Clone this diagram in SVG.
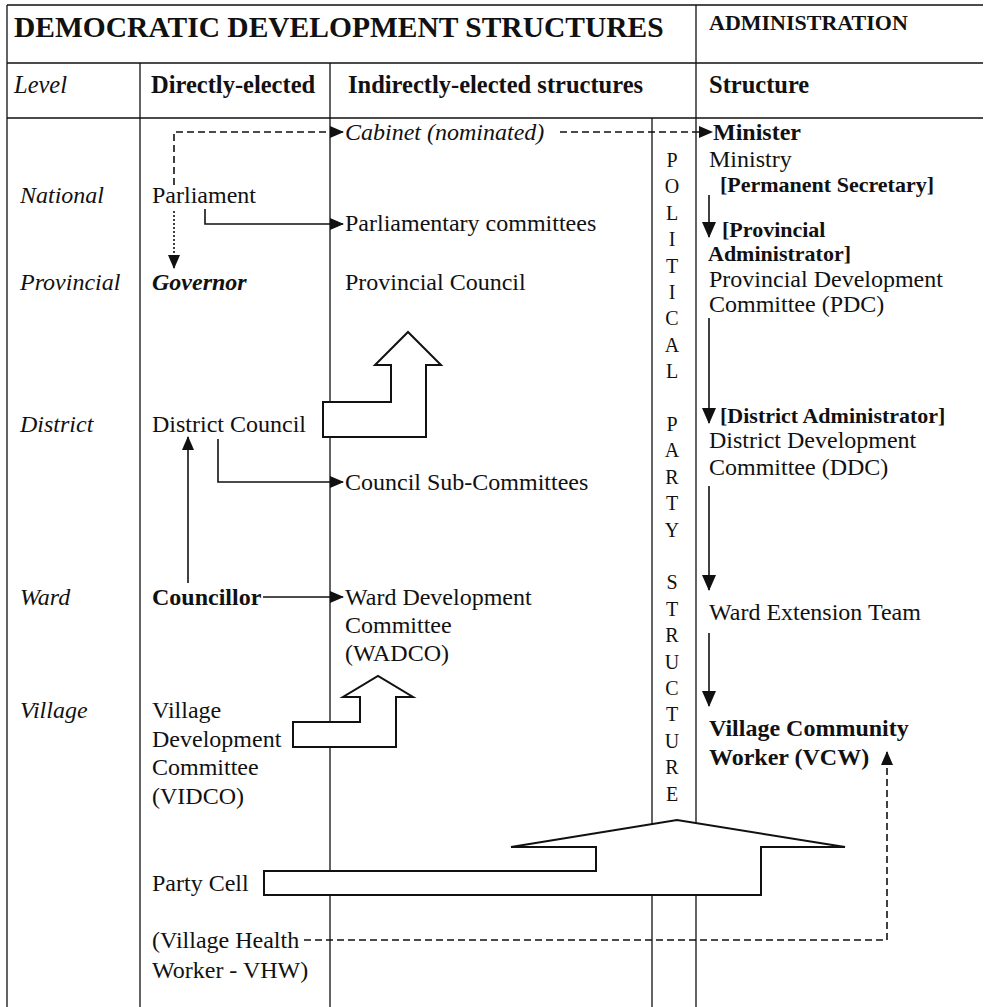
<svg xmlns="http://www.w3.org/2000/svg" width="985" height="1007" viewBox="0 0 985 1007">
<style>
text{font-family:"Liberation Serif","Times New Roman",serif;font-size:24px;fill:#111}
.b{font-weight:bold}
.i{font-style:italic}
.h{font-size:24.5px}
.sm{font-size:22px}
.pl{font-size:20px;text-anchor:middle}
.grid{stroke:#111;stroke-width:1.3;fill:none}
.ln{stroke:#111;stroke-width:1.6;fill:none}
.dash{stroke:#111;stroke-width:1.6;fill:none;stroke-dasharray:7,4}
.dot{stroke:#111;stroke-width:1.6;fill:none;stroke-dasharray:2,2}
.blk{stroke:#111;stroke-width:2;fill:#fff}
</style>
<defs>
<marker id="ah" markerWidth="14" markerHeight="12" refX="13" refY="6" orient="auto" markerUnits="userSpaceOnUse"><path d="M0,0 L14,6 L0,12 z" fill="#111"/></marker>
<marker id="ahb" markerWidth="16" markerHeight="14" refX="15" refY="7" orient="auto" markerUnits="userSpaceOnUse"><path d="M0,0 L16,7 L0,14 z" fill="#111"/></marker>
</defs>
<rect width="985" height="1007" fill="#fff"/>
<g id="table">
<path class="grid" d="M7,5 H983 M7,63 H983 M7,118 H983 M7,5 V1007 M140,63 V1007 M330,63 V1007 M696,5 V1007 M652,118 V1007"/>
</g>
<g id="headers">
<text class="b" x="14" y="37" style="font-size:29.5px">DEMOCRATIC DEVELOPMENT STRUCTURES</text>
<text class="b sm" x="709" y="30">ADMINISTRATION</text>
<text class="i h" x="14" y="93">Level</text>
<text class="b h" x="151" y="93">Directly-elected</text>
<text class="b h" x="348" y="93">Indirectly-elected structures</text>
<text class="b h" x="709" y="93">Structure</text>
</g>
<g id="levels">
<text class="i" x="20" y="203">National</text>
<text class="i" x="20" y="290">Provincial</text>
<text class="i" x="20" y="432">District</text>
<text class="i" x="20" y="605">Ward</text>
<text class="i" x="20" y="718">Village</text>
</g>
<g id="blocks">
<polygon class="blk" points="323,402 391,402 391,365 375,365 408,332 441,365 426,365 426,437 323,437"/>
<polygon class="blk" points="293,722 360,722 360,697 343,697 378,676 413,697 396,697 396,747 293,747"/>
<polygon class="blk" points="264,871 596,871 596,847 511,847 677,820 845,847 761,847 761,895 264,895"/>
</g>
<g id="connectors">
<path class="dash" d="M174,185 V132 H343" marker-end="url(#ah)"/>
<path class="dash" d="M560,132 H712" marker-end="url(#ah)"/>
<path class="dot" d="M174,211 V268" marker-end="url(#ah)"/>
<path class="ln" d="M205,209 V224 H343" marker-end="url(#ah)"/>
<path class="ln" d="M218,439 V482 H343" marker-end="url(#ah)"/>
<path class="ln" d="M188,583 V437" marker-end="url(#ah)"/>
<path class="ln" d="M263,597 H343" marker-end="url(#ah)"/>
<path class="ln" d="M709,195 V237" marker-end="url(#ahb)"/>
<path class="ln" d="M709,318 V423" marker-end="url(#ahb)"/>
<path class="ln" d="M709,486 V590" marker-end="url(#ahb)"/>
<path class="ln" d="M709,633 V706" marker-end="url(#ahb)"/>
<path class="dash" d="M304,940 H887 V752" marker-end="url(#ah)"/>
</g>
<g id="n-cabinet"><text class="i" x="345" y="140">Cabinet (nominated)</text></g>
<g id="n-parliament"><text x="152" y="203">Parliament</text></g>
<g id="n-parlcomm"><text x="345" y="231">Parliamentary committees</text></g>
<g id="n-governor"><text class="b i" x="152" y="290">Governor</text></g>
<g id="n-provcouncil"><text x="345" y="290">Provincial Council</text></g>
<g id="n-distcouncil"><text x="152" y="432">District Council</text></g>
<g id="n-subcomm"><text x="345" y="490">Council Sub-Committees</text></g>
<g id="n-councillor"><text class="b" x="152" y="605">Councillor</text></g>
<g id="n-wadco"><text x="345" y="605">Ward Development</text><text x="345" y="633">Committee</text><text x="345" y="661">(WADCO)</text></g>
<g id="n-vidco"><text x="152" y="718">Village</text><text x="152" y="747">Development</text><text x="152" y="775">Committee</text><text x="152" y="804">(VIDCO)</text></g>
<g id="n-partycell"><text x="152" y="891">Party Cell</text></g>
<g id="n-vhw"><text x="152" y="948">(Village Health</text><text x="152" y="978">Worker - VHW)</text></g>
<g id="n-party">
<text class="pl" x="672" y="167">P</text><text class="pl" x="672" y="193">O</text><text class="pl" x="672" y="220">L</text><text class="pl" x="672" y="246">I</text><text class="pl" x="672" y="273">T</text><text class="pl" x="672" y="299">I</text><text class="pl" x="672" y="325">C</text><text class="pl" x="672" y="352">A</text><text class="pl" x="672" y="378">L</text>
<text class="pl" x="672" y="431">P</text><text class="pl" x="672" y="457">A</text><text class="pl" x="672" y="484">R</text><text class="pl" x="672" y="510">T</text><text class="pl" x="672" y="537">Y</text>
<text class="pl" x="672" y="589">S</text><text class="pl" x="672" y="616">T</text><text class="pl" x="672" y="642">R</text><text class="pl" x="672" y="669">U</text><text class="pl" x="672" y="695">C</text><text class="pl" x="672" y="721">T</text><text class="pl" x="672" y="748">U</text><text class="pl" x="672" y="774">R</text><text class="pl" x="672" y="801">E</text>
</g>
<g id="n-minister"><text class="b" x="713" y="140">Minister</text></g>
<g id="n-ministry"><text x="709" y="167">Ministry</text><text class="b sm" x="720" y="192">[Permanent Secretary]</text></g>
<g id="n-pdc"><text class="b sm" x="722" y="237">[Provincial</text><text class="b sm" x="708" y="261">Administrator]</text><text x="709" y="287">Provincial Development</text><text x="709" y="312">Committee (PDC)</text></g>
<g id="n-ddc"><text class="b sm" x="720" y="423">[District Administrator]</text><text x="709" y="448">District Development</text><text x="709" y="475">Committee (DDC)</text></g>
<g id="n-wet"><text x="709" y="620">Ward Extension Team</text></g>
<g id="n-vcw"><text class="b" x="709" y="736">Village Community</text><text class="b" x="709" y="765">Worker (VCW)</text></g>
</svg>
